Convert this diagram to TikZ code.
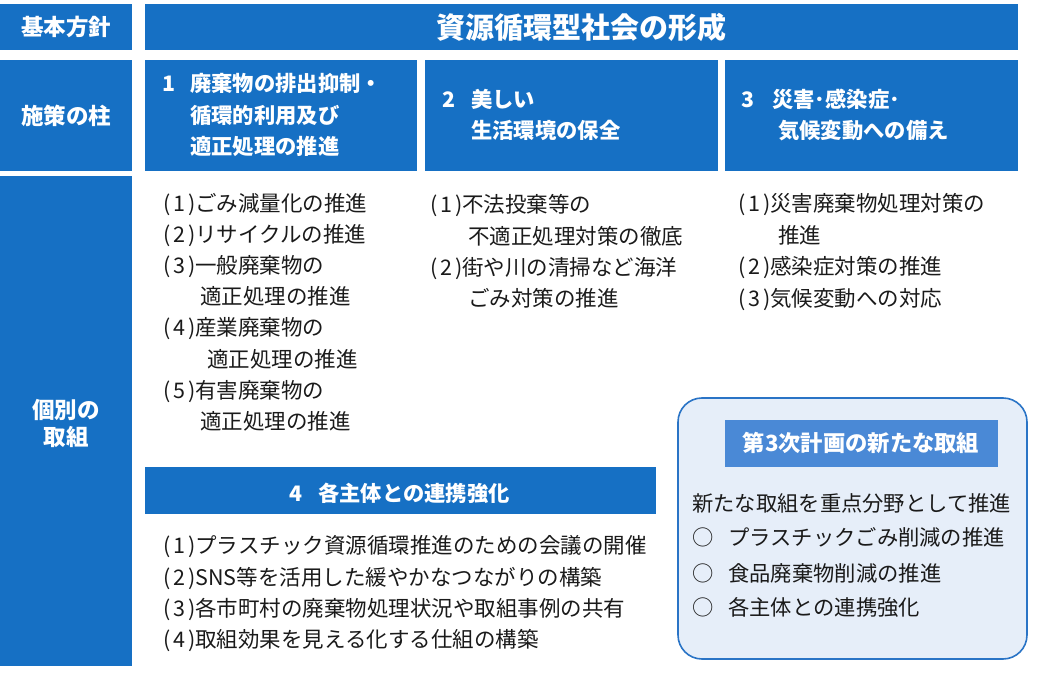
\documentclass[tikz,border=0pt]{standalone}
\usepackage{fontspec}
\setmainfont{Noto Sans CJK JP}
\definecolor{mainblue}{HTML}{1670C4}
\definecolor{subblue}{HTML}{4A89D6}
\definecolor{panelfill}{HTML}{E6EEF9}
\definecolor{panelline}{HTML}{2A74C6}
\definecolor{bodytext}{HTML}{1A1A1A}
\newcommand\itmno[1]{\hbox to 1.5em{(\hfil#1\hfil)}}
\begin{document}
\begin{tikzpicture}[x=1pt,y=-1pt,
  bluebox/.style={fill=mainblue,draw=none},
  lbl/.style={text=white,inner sep=0,font=\fontsize{22.5}{26}\selectfont\bfseries},
  head/.style={text=white,inner sep=0,anchor=base west,font=\fontsize{21.3}{24}\selectfont\bfseries},
  body/.style={text=bodytext,inner sep=0,anchor=base west,font=\fontsize{21.5}{24}\selectfont}]
\useasboundingbox (0,0) rectangle (1045,679);
% left label column
\fill[bluebox] (0,4) rectangle (132,50);
\fill[bluebox] (0,60) rectangle (132,171);
\fill[bluebox] (0,176) rectangle (132,666);
\node[lbl] (l1) at (66,27) {基本方針};
\node[lbl] (l2) at (66,116) {施策の柱};
\node[lbl] (l3a) at (66,410) {個別の};
\node[lbl] (l3b) at (66,437) {取組};
% title
\fill[bluebox] (145,4) rectangle (1018,50);
\node[lbl,font=\fontsize{29}{32}\selectfont\bfseries] (title) at (581,27) {資源循環型社会の形成};
% pillars
\fill[bluebox] (145,60) rectangle (417,171);
\fill[bluebox] (425,60) rectangle (718,171);
\fill[bluebox] (725,60) rectangle (1018,171);
\node[head] (p1n) at (162,92) {1};
\node[head] (p1a) at (190,92) {廃棄物の排出抑制・};
\node[head] (p1b) at (190,124) {循環的利用及び};
\node[head] (p1c) at (190,155) {適正処理の推進};
\node[head] (p2n) at (442,108) {2};
\node[head] (p2a) at (471,108) {美しい};
\node[head] (p2b) at (471,139) {生活環境の保全};
\node[head] (p3n) at (741,108) {3};
\node[head] (p3a) at (772,108) {災害･感染症･};
\node[head] (p3b) at (778,139) {気候変動への備え};
% column 1 items
\node[body] (c1a) at (163,212) {\itmno{1}ごみ減量化の推進};
\node[body] (c1b) at (163,243) {\itmno{2}リサイクルの推進};
\node[body] (c1c) at (163,274) {\itmno{3}一般廃棄物の};
\node[body] (c1d) at (200,305) {適正処理の推進};
\node[body] (c1e) at (163,336) {\itmno{4}産業廃棄物の};
\node[body] (c1f) at (207,367) {適正処理の推進};
\node[body] (c1g) at (163,398) {\itmno{5}有害廃棄物の};
\node[body] (c1h) at (200,429) {適正処理の推進};
% column 2 items
\node[body] (c2a) at (430,213) {\itmno{1}不法投棄等の};
\node[body] (c2b) at (468,245) {不適正処理対策の徹底};
\node[body] (c2c) at (430,276) {\itmno{2}街や川の清掃など海洋};
\node[body] (c2d) at (468,307) {ごみ対策の推進};
% column 3 items
\node[body] (c3a) at (738,212) {\itmno{1}災害廃棄物処理対策の};
\node[body] (c3b) at (778,244) {推進};
\node[body] (c3c) at (738,275) {\itmno{2}感染症対策の推進};
\node[body] (c3d) at (738,306) {\itmno{3}気候変動への対応};
% pillar 4
\fill[bluebox] (145,467) rectangle (656,514);
\node[head] (p4n) at (289,501) {4};
\node[head] (p4a) at (318,501) {各主体との連携強化};
\node[body] (c4a) at (163,553) {\itmno{1}プラスチック資源循環推進のための会議の開催};
\node[body] (c4b) at (163,585) {\itmno{2}SNS等を活用した緩やかなつながりの構築};
\node[body] (c4c) at (163,616) {\itmno{3}各市町村の廃棄物処理状況や取組事例の共有};
\node[body] (c4d) at (163,647) {\itmno{4}取組効果を見える化する仕組の構築};
% new initiatives panel
\draw[fill=panelfill,draw=panelline,line width=1.6pt,rounded corners=24pt] (678,398) rectangle (1027,659);
\fill[subblue] (725,420) rectangle (998,467);
\node[lbl,font=\fontsize{22.3}{25}\selectfont\bfseries] (nh) at (861,443) {第3次計画の新たな取組};
\node[body,font=\fontsize{21.3}{24}\selectfont] (n0) at (692,511) {新たな取組を重点分野として推進};
\node[body,font=\fontsize{21.3}{24}\selectfont] (n1) at (692,545) {○\hspace{0.7em}プラスチックごみ削減の推進};
\node[body,font=\fontsize{21.3}{24}\selectfont] (n2) at (692,581) {○\hspace{0.7em}食品廃棄物削減の推進};
\node[body,font=\fontsize{21.3}{24}\selectfont] (n3) at (692,615) {○\hspace{0.7em}各主体との連携強化};
\end{tikzpicture}
\end{document}
